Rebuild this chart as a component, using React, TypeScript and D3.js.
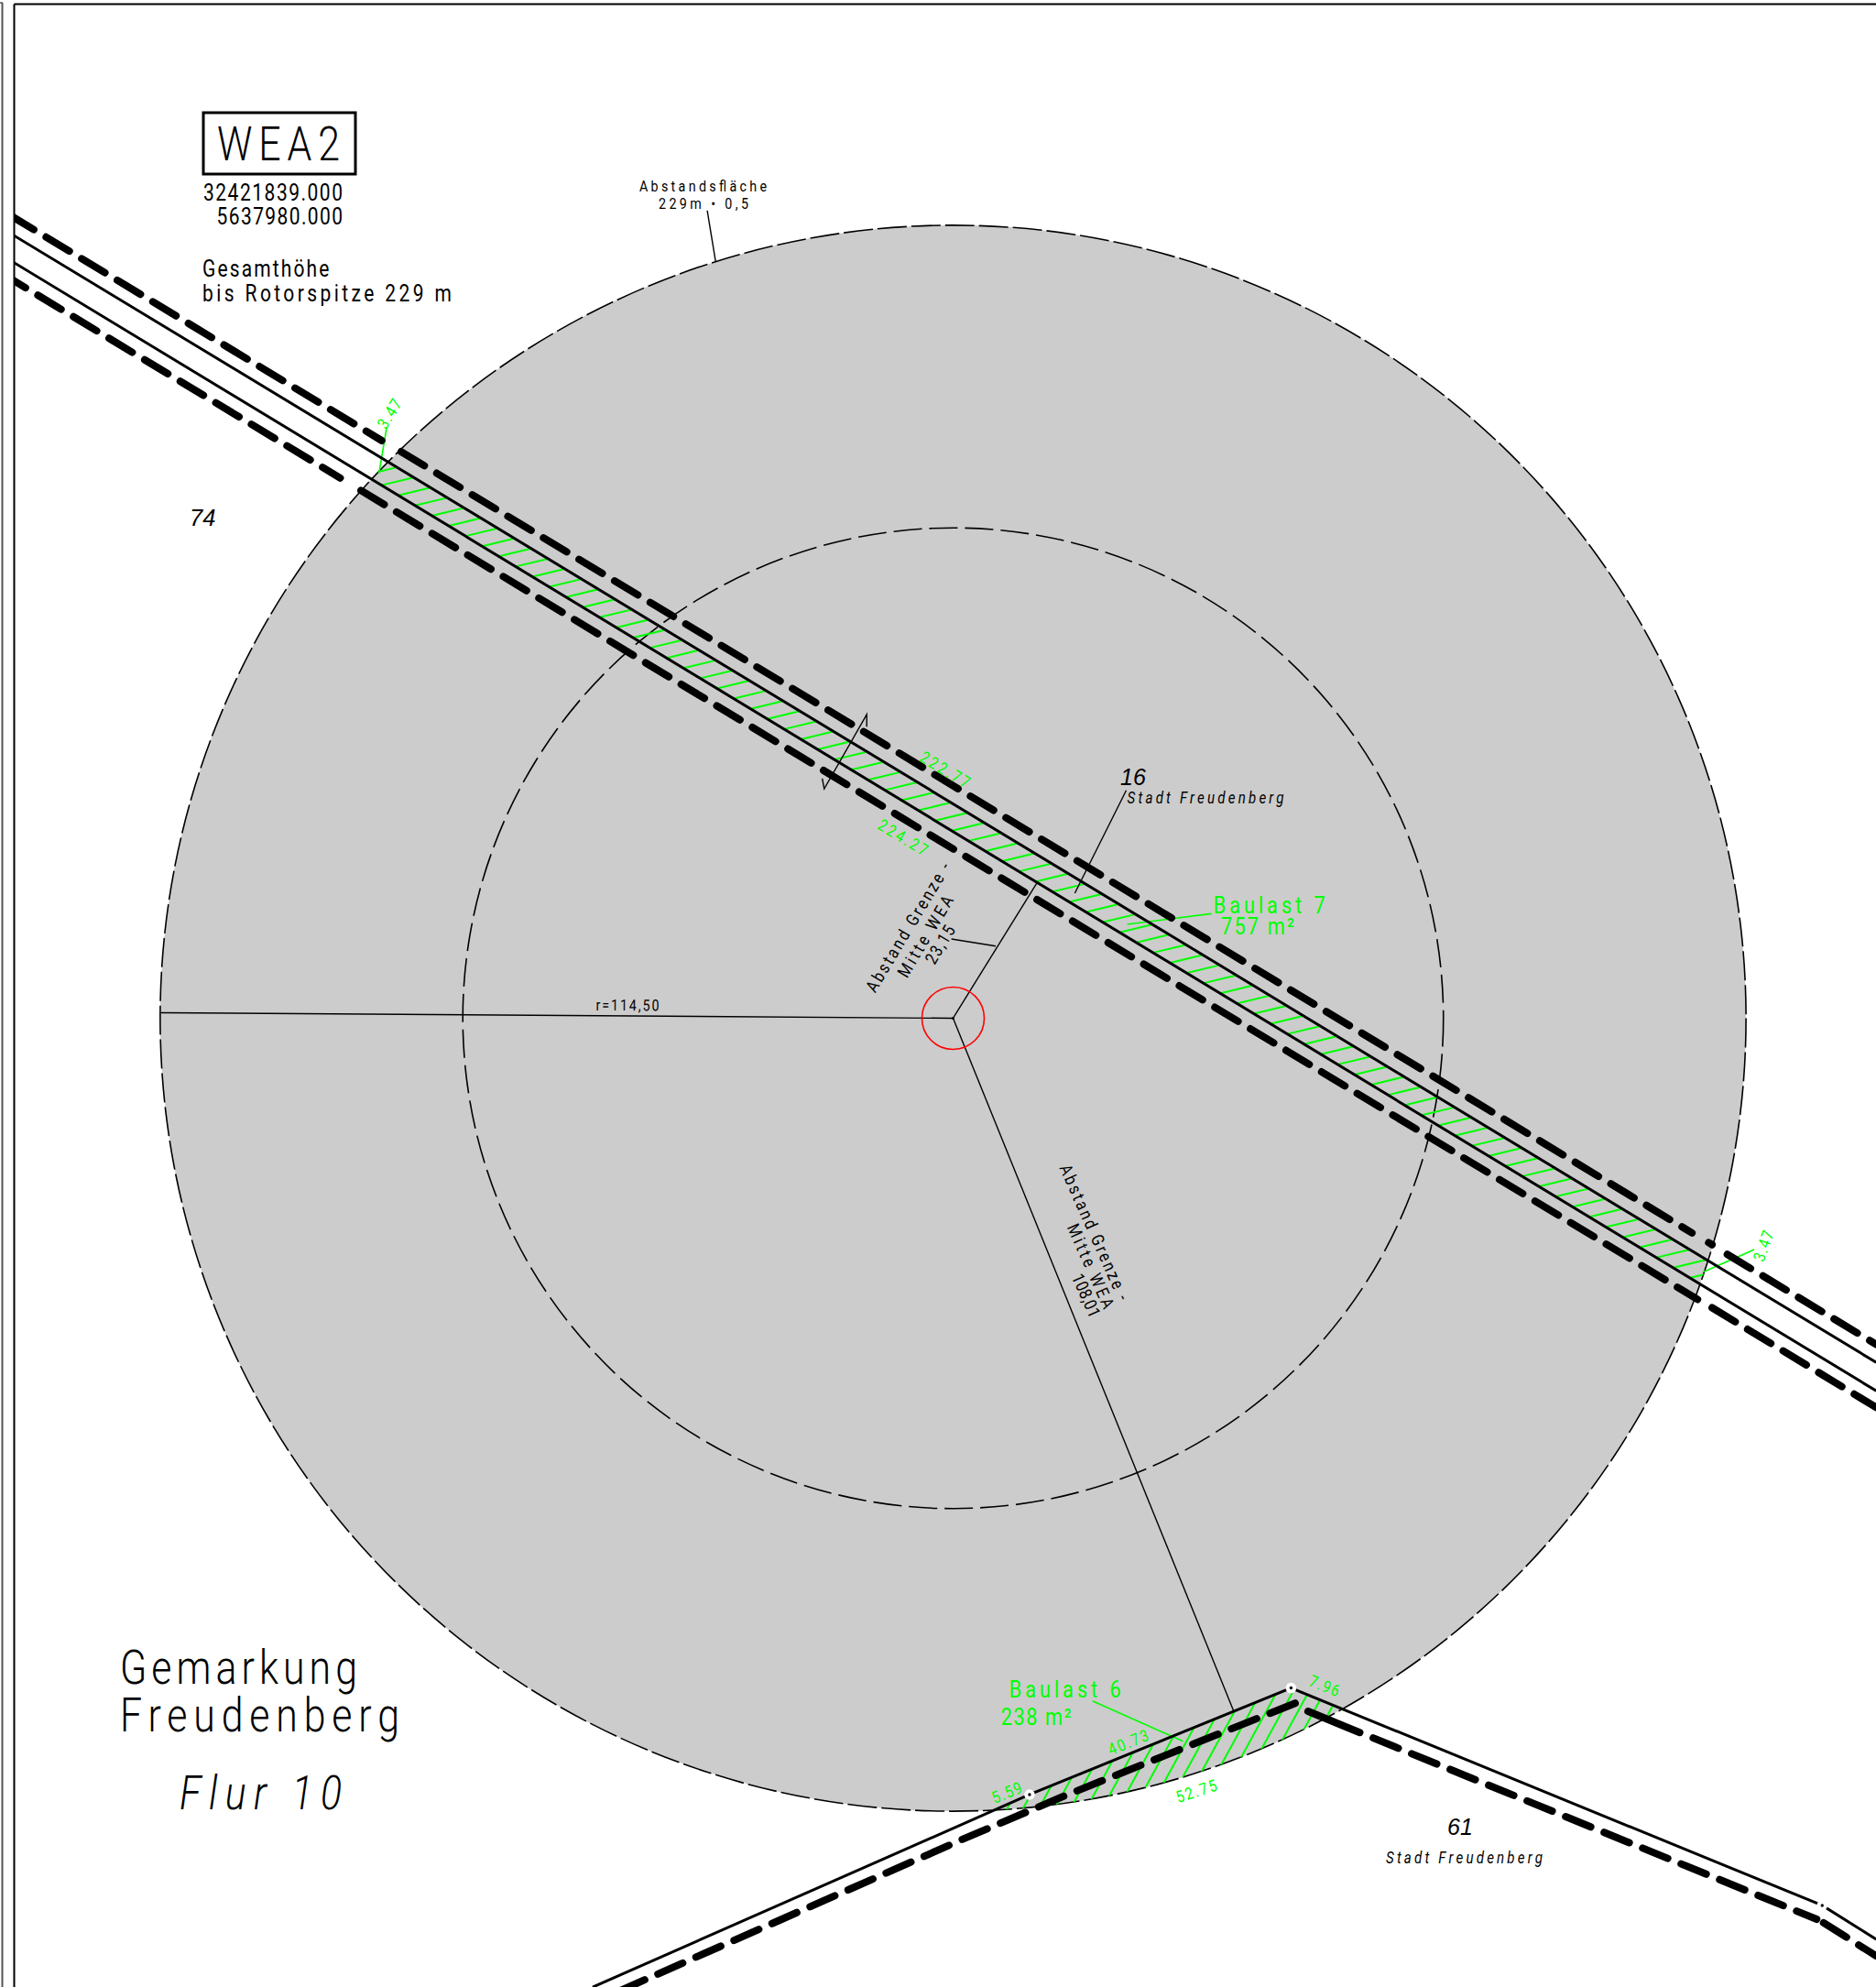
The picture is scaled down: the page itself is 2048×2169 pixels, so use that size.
import * as d3 from 'd3';

// plan coordinates in metres, origin at the turbine (WEA2), north up
type Pt = [number, number];

const outerRadius = 114.5;
const innerRadius = 70.8;
const towerRadius = 4.5;

// parcel boundaries
const stripUpper: Pt[] = [[-135.6, 113.0], [133.3, -49.7]];
const stripLower: Pt[] = [[-135.6, 109.1], [133.3, -53.8]];
const parcel61: Pt[] = [[-52.05, -139.9], [11.04, -112.1], [48.8, -96.7], [125.5, -128.1], [133.3, -133.0]];
const parcelNodes: Pt[] = [[11.04, -112.1], [48.8, -96.7], [125.5, -128.1]];

// setback lines, each run starts where the dash pattern starts
const setbackRuns: Pt[][] = [
  [[-136.1, 115.9], [-82.5, 83.4]],
  [[-79.7, 81.8], [106.7, -31.0]],
  [[109.1, -32.4], [109.6, -32.7]],
  [[111.8, -34.1], [133.3, -47.1]],
  [[-137.3, 107.5], [-88.5, 78.0]],
  [[-85.5, 76.2], [107.5, -40.6]],
  [[109.6, -41.8], [133.3, -56.2]],
  [[49.4, -98.9], [15.8, -112.4], [1.26, -118.6], [-49.4, -141.0]],
  [[51.25, -100.07], [55.0, -101.6]],
  [[55.1, -101.65], [124.7, -130.1]],
  [[125.7, -130.6], [133.3, -135.4]],
];

// dimension and leader lines
const thinLines: Pt[][] = [
  [[-114.4, 0.8], [0, 0]],
  [[0, 0], [12.2, 19.7]],
  [[0, 0], [40.5, -100.0]],
  [[-0.25, 11.44], [6.15, 10.42]],
  [[25.0, 32.9], [17.58, 18.06]],
  [[-12.47, 42.09], [-12.47, 43.85], [-18.61, 33.13], [-18.89, 34.59]],
  [[-35.5, 116.6], [-34.3, 109.3]],
];
const greenLeaders: Pt[][] = [
  [[25.15, 13.56], [37.3, 15.1]],
  [[-82.9, 78.7], [-81.8, 85.25]],
  [[108.4, -36.6], [115.7, -33.4]],
  [[20.13, -98.57], [33.2, -104.4]],
];

// hatch steps
const strip7Steps = d3.range(-3, 82);
const strip6Steps = d3.range(-15, 7);

const metresPerWidth: [number, number] = [-137.63, 133.27];
const metresPerHeight: [number, number] = [147.02, -139.88];

const x = d3.scaleLinear().domain(metresPerWidth).range([0, 2048]);
const y = d3.scaleLinear().domain(metresPerHeight).range([0, 2169]);
const scale = 7.56;
const path = d3.line<Pt>().x((d) => x(d[0])).y((d) => y(d[1]));

const GREEN = '#00ff00';
const CAD = 'Roboto, "DejaVu Sans Condensed", sans-serif';
const NARROW = 0.84;

const strip7Hatch: Pt[][] = strip7Steps.map((k) => {
  const sx = -80.1 + k * 2.423;
  const sy = 109.1 - 0.6055 * (sx + 135.6);
  return [[sx, sy], [sx + 4.77, sy + 1.15]];
});
const strip6Hatch: Pt[][] = strip6Steps.map((k) => {
  const u = 99.93 + k * 2.288;
  return [[u + 0.5466 * -90, -90], [u + 0.5466 * -120, -120]];
});

interface LabelProps {
  at: [number, number];
  len: number;
  size: number;
  rot?: number;
  fill?: string;
  italic?: boolean;
  center?: boolean;
  children: string;
}

const Label = ({ at, len, size, rot = 0, fill = '#000', italic, center, children }: LabelProps) => (
  <text
    transform={`translate(${at[0]},${at[1]}) rotate(${rot}) scale(${NARROW},1)`}
    textLength={len / NARROW}
    lengthAdjust="spacing"
    textAnchor={center ? 'middle' : 'start'}
    dy={center ? '0.36em' : 0}
    fontFamily={CAD}
    fontWeight={size > 40 ? 300 : 400}
    fontStyle={italic ? 'italic' : 'normal'}
    fontSize={size}
    fill={fill}
  >
    {children}
  </text>
);

const Plain = ({ at, size, children }: { at: [number, number]; size: number; children: string }) => (
  <text x={at[0]} y={at[1]} fontFamily='"Liberation Sans", sans-serif' fontStyle="italic" fontSize={size} fill="#000">
    {children}
  </text>
);

export default function App() {
  return (
    <svg width={2048} height={2169} style={{ position: 'absolute', left: 0, top: 0, display: 'block', background: '#fff' }}>
      <defs>
        <clipPath id="sheet">
          <rect x={16} y={5} width={2032} height={2164} />
        </clipPath>
        <clipPath id="outer">
          <circle cx={x(0)} cy={y(0)} r={outerRadius * scale} />
        </clipPath>
        <clipPath id="below61">
          <path d={path([...parcel61, [133.3, -145], [-52.05, -145]]) + 'Z'} />
        </clipPath>
      </defs>

      <line x1={2.5} y1={3} x2={2.5} y2={2169} stroke="#555" strokeWidth={2} />
      <line x1={0} y1={3} x2={3} y2={3} stroke="#555" strokeWidth={1.5} />
      <line x1={15.5} y1={4.5} x2={2048} y2={4.5} stroke="#000" strokeWidth={2} />
      <line x1={15.5} y1={4.5} x2={15.5} y2={2169} stroke="#000" strokeWidth={2} />

      <g clipPath="url(#sheet)">
        <circle cx={x(0)} cy={y(0)} r={outerRadius * scale} fill="#cccccc" stroke="#000" strokeWidth={1.6} strokeDasharray="32 5" />
        <circle cx={x(0)} cy={y(0)} r={innerRadius * scale} fill="none" stroke="#000" strokeWidth={1.6} strokeDasharray="31 8" />

        <g clipPath="url(#outer)" stroke={GREEN} strokeWidth={2} fill="none">
          {strip7Hatch.map((d, i) => (
            <path key={i} d={path(d) ?? ''} />
          ))}
          <g clipPath="url(#below61)">
            {strip6Hatch.map((d, i) => (
              <path key={i} d={path(d) ?? ''} />
            ))}
          </g>
        </g>

        {thinLines.map((d, i) => (
          <path key={i} d={path(d) ?? ''} fill="none" stroke="#000" strokeWidth={1.4} />
        ))}
        {greenLeaders.map((d, i) => (
          <path key={i} d={path(d) ?? ''} fill="none" stroke={GREEN} strokeWidth={1.6} />
        ))}

        <circle cx={x(0)} cy={y(0)} r={towerRadius * scale} fill="none" stroke="#ff0000" strokeWidth={1.6} />
        <circle cx={x(0)} cy={y(0)} r={1.6} fill="#000" />

        {[stripUpper, stripLower, parcel61].map((d, i) => (
          <path key={i} d={path(d) ?? ''} fill="none" stroke="#000" strokeWidth={3} />
        ))}
        {setbackRuns.map((d, i) => (
          <path key={i} d={path(d) ?? ''} fill="none" stroke="#000" strokeWidth={8} strokeLinecap="round" strokeDasharray="29.6 15.8" />
        ))}
        {parcelNodes.map((d, i) => (
          <g key={i}>
            <circle cx={x(d[0])} cy={y(d[1])} r={5.8} fill="#fff" />
            <circle cx={x(d[0])} cy={y(d[1])} r={1.7} fill="#000" />
          </g>
        ))}
      </g>

      <rect x={222} y={123} width={166} height={67} fill="none" stroke="#000" strokeWidth={3} />
      <Label at={[237, 175]} len={134} size={51}>WEA2</Label>
      <Label at={[222, 219]} len={152} size={25}>32421839.000</Label>
      <Label at={[236.6, 245]} len={137.4} size={25}>5637980.000</Label>
      <Label at={[221, 302]} len={138.4} size={25}>Gesamthöhe</Label>
      <Label at={[221, 329]} len={272} size={25}>bis Rotorspitze 229 m</Label>
      <Label at={[698, 209]} len={139} size={17}>Abstandsfläche</Label>
      <Label at={[719, 228]} len={98} size={17}>229m • 0,5</Label>

      <Label at={[131, 1838]} len={259} size={51}>Gemarkung</Label>
      <Label at={[131, 1890]} len={305} size={51}>Freudenberg</Label>
      <Label at={[196, 1975]} len={177} size={51} italic>Flur 10</Label>

      <Plain at={[207, 574]} size={25.5}>74</Plain>
      <Plain at={[1223, 857]} size={25}>16</Plain>
      <Plain at={[1580, 2003]} size={25}>61</Plain>
      <Label at={[1230.6, 876.7]} len={171} size={18} italic>Stadt Freudenberg</Label>
      <Label at={[1513, 2034]} len={171} size={18} italic>Stadt Freudenberg</Label>

      <Label at={[685, 1097]} len={69} size={17} rot={0.4} center>r=114,50</Label>

      <Label at={[991, 1012]} len={161} size={19} rot={-59} center>Abstand Grenze -</Label>
      <Label at={[1010, 1022]} len={100} size={19} rot={-59} center>Mitte WEA</Label>
      <Label at={[1026, 1031]} len={45.6} size={19} rot={-59} center>23,15</Label>
      <Label at={[1195, 1345]} len={160} size={19} rot={66} center>Abstand Grenze -</Label>
      <Label at={[1191, 1382]} len={99} size={19} rot={66} center>Mitte WEA</Label>
      <Label at={[1186, 1414]} len={50} size={19} rot={66} center>108,01</Label>

      <Label at={[1324.7, 996.7]} len={122} size={26} fill={GREEN}>Baulast 7</Label>
      <Label at={[1333, 1020]} len={80} size={26} fill={GREEN}>757 m²</Label>
      <Label at={[1101.7, 1852.7]} len={122} size={26} fill={GREEN}>Baulast 6</Label>
      <Label at={[1092.7, 1883.3]} len={77} size={26} fill={GREEN}>238 m²</Label>
      <Label at={[1032, 840]} len={60} size={18} rot={31} fill={GREEN} center>222.77</Label>
      <Label at={[986, 914]} len={60} size={18} rot={31} fill={GREEN} center>224.27</Label>
      <Label at={[425, 451.6]} len={34} size={18} rot={-58} fill={GREEN} center>3.47</Label>
      <Label at={[1925, 1360]} len={34} size={18} rot={-70} fill={GREEN} center>3.47</Label>
      <Label at={[1231.7, 1901.7]} len={46} size={18} rot={-22} fill={GREEN} center>40.73</Label>
      <Label at={[1306, 1955]} len={46} size={18} rot={-18} fill={GREEN} center>52.75</Label>
      <Label at={[1099, 1956.7]} len={34} size={18} rot={-22} fill={GREEN} center>5.59</Label>
      <Label at={[1446, 1840]} len={34} size={18} rot={22} fill={GREEN} center>7.96</Label>
    </svg>
  );
}
